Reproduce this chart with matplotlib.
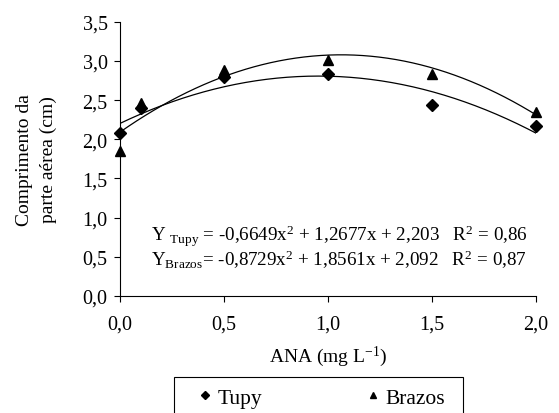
import numpy as np
import matplotlib
matplotlib.use('Agg')
import matplotlib.pyplot as plt
from matplotlib.ticker import FuncFormatter
from matplotlib.patches import Rectangle

plt.rcParams['font.family'] = 'Liberation Serif'
plt.rcParams['mathtext.fontset'] = 'custom'
plt.rcParams['mathtext.rm'] = 'Liberation Serif'
plt.rcParams['mathtext.it'] = 'Liberation Serif:italic'

# dados
ana = [0.0, 0.1, 0.5, 1.0, 1.5, 2.0]
tupy = [2.08, 2.40, 2.80, 2.83, 2.44, 2.17]
brazos = [1.85, 2.46, 2.88, 3.01, 2.83, 2.35]

# coeficientes das regressoes (como na equacao do grafico)
coef_tupy = [-0.6649, 1.2677, 2.203]
coef_brazos = [-0.8729, 1.8561, 2.092]

fig = plt.figure(figsize=(5.59, 4.14), dpi=100)
ax = fig.add_axes([0.2147, 0.2826, 0.7442, 0.6623])

xx = np.linspace(0, 2, 200)
ax.plot(xx, np.polyval(coef_tupy, xx), '-', color='k', lw=0.9)
ax.plot(xx, np.polyval(coef_brazos, xx), '-', color='k', lw=0.9)
ax.plot(ana, tupy, 'D', color='k', ms=6.5, label='Tupy', clip_on=False)
ax.plot(ana, brazos, '^', color='k', ms=7.5, label='Brazos', clip_on=False)

ax.set_xlim(0, 2)
ax.set_ylim(0, 3.5)
ax.set_xticks([0, 0.5, 1.0, 1.5, 2.0])
ax.set_yticks(np.arange(0, 3.51, 0.5))
virgola = FuncFormatter(lambda v, p: f"{v:.1f}".replace('.', ','))
ax.xaxis.set_major_formatter(virgola)
ax.yaxis.set_major_formatter(virgola)
ax.spines['top'].set_visible(False)
ax.spines['right'].set_visible(False)
ax.tick_params(direction='out', length=4, width=0.8, labelsize=14.5, color='k')
ax.tick_params(axis='x', pad=9)
ax.tick_params(axis='y', pad=5)

ax.set_xlabel(r"ANA (mg L$^{\mathrm{-1}}$)", fontsize=14, labelpad=8)
ax.set_ylabel("Comprimento da\nparte aérea (cm)", fontsize=14, labelpad=18, linespacing=1.5)

ax.text(0.15, 0.78, r"Y $_{\mathrm{Tupy}}$ = -0,6649x$^{\mathrm{2}}$ + 1,2677x + 2,203   R$^{\mathrm{2}}$ = 0,86",
        fontsize=13.7, va='center')
ax.text(0.15, 0.48, r"Y$_{\mathrm{Brazos}}$= -0,8729x$^{\mathrm{2}}$ + 1,8561x + 2,092   R$^{\mathrm{2}}$ = 0,87",
        fontsize=13.7, va='center')

# legenda senza cornice, il riquadro e' disegnato a parte (esce dal fondo)
h, l = ax.get_legend_handles_labels()
leg = fig.legend(h, l, loc='upper left',
                 bbox_to_anchor=(192 / 559, 1 - 382 / 414 - 0.1, 260 / 559, 0.1),
                 mode='expand', ncol=2, fontsize=15.5, frameon=False,
                 borderaxespad=0, handlelength=0.6, handletextpad=0.3,
                 markerscale=0.65, borderpad=0.3)
fig.patches.append(Rectangle((174 / 559, -0.05), 289 / 559, 1 - 378 / 414 + 0.05,
                             transform=fig.transFigure, fill=False, edgecolor='k',
                             lw=0.8, figure=fig))
fig.savefig('out.png', dpi=100)
